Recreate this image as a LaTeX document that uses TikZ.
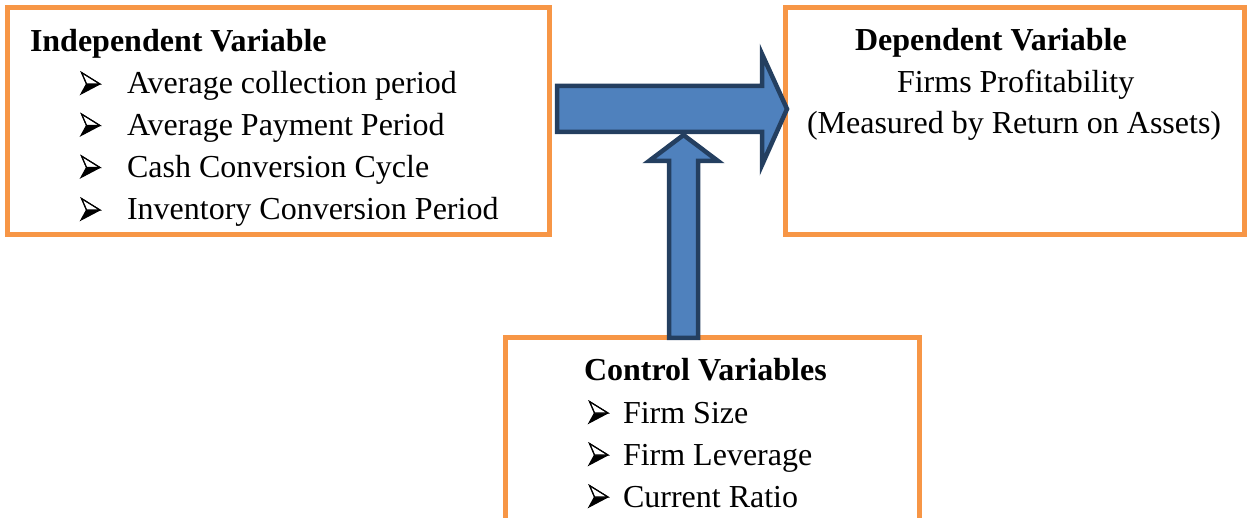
\documentclass[tikz,border=0pt]{standalone}
\usepackage{fontspec}
\setmainfont{Liberation Serif}
\newfontfamily\timesfam{Liberation Serif}
\usetikzlibrary{calc}
\definecolor{boxorange}{HTML}{F79646}
\definecolor{arrowfill}{HTML}{4F81BD}
\definecolor{arrowline}{HTML}{243F60}
\begin{document}
\begin{tikzpicture}[x=1pt,y=-1pt,
  varbox/.style={draw=boxorange, line width=5pt, fill=white, inner sep=0pt, outer sep=0pt, anchor=north west},
  txt/.style={anchor=base west, inner sep=0pt, outer sep=0pt, font=\timesfam\fontsize{32}{36}\selectfont},
  headtxt/.style={txt, font=\timesfam\fontsize{32}{36}\selectfont\bfseries},
  blockarrow/.style={fill=arrowfill, draw=arrowline, line width=4.5pt, line join=miter},
  arrowbullet/.pic={
    % lower half in black, upper half white with an outline
    \fill[black] (5.5,-10) -- (19,-10) -- (0,0) -- cycle;
    \draw[black, line width=1.1pt, fill=white, line join=miter] (0.5,-21.5) -- (19,-10) -- (5.5,-10) -- cycle;
    \draw[black, line width=1.1pt, line join=miter] (0.5,-21.5) -- (19,-10) -- (0,0) -- (5.5,-10) -- cycle;
  }
]
\useasboundingbox (0,0) rectangle (1247,518);

% variable boxes
\node[varbox, minimum width=542pt, minimum height=227pt] (indep) at (7,8) {};
\node[varbox, minimum width=459pt, minimum height=227pt] (dep) at (785,8) {};
\node[varbox, minimum width=414pt, minimum height=184pt] (ctrl) at (505,338) {};

% independent variable
\node[headtxt] (indepHead) at (30,52) {Independent Variable};
\pic at (81,94) {arrowbullet};
\pic at (81,135.5) {arrowbullet};
\pic at (81,177.5) {arrowbullet};
\pic at (81,220) {arrowbullet};
\node[txt] (acp) at (127,94) {Average collection period};
\node[txt] (app) at (127,135.5) {Average Payment Period};
\node[txt] (ccc) at (127,177.5) {Cash Conversion Cycle};
\node[txt] (icp) at (127,220) {Inventory Conversion Period};

% dependent variable
\node[headtxt] (depHead) at (855,51) {Dependent Variable};
\node[txt] (fp) at (897,93) {Firms Profitability};
\node[txt] (roa) at (807,134) {(Measured by Return on Assets)};

% control variables
\node[headtxt] (ctrlHead) at (584,380) {Control Variables};
\pic at (589,423) {arrowbullet};
\pic at (589,465) {arrowbullet};
\pic at (589,507) {arrowbullet};
\node[txt] (fs) at (623,423) {Firm Size};
\node[txt] (fl) at (623,465) {Firm Leverage};
\node[txt] (cr) at (623,507) {Current Ratio};

% block arrow: independent -> dependent
\coordinate (hTail) at ($(indep.north east)+(8,101)$);
\coordinate (hTip) at ($(dep.north west)+(2,101)$);
\draw[blockarrow] ($(hTail)+(0,-23)$) -- ($(hTip)+(-25,-23)$) -- ($(hTip)+(-25,-55)$)
  -- (hTip) -- ($(hTip)+(-25,56)$) -- ($(hTip)+(-25,23)$) -- ($(hTail)+(0,23)$) -- cycle;

% block arrow: control -> main arrow
\coordinate (vTail) at ($(ctrl.north west)+(178.5,0)$);
\coordinate (vTip) at ($(hTail)+(126.5,26)$);
\draw[blockarrow] ($(vTail)+(-14.5,0)$) -- ($(vTip)+(-14.5,26)$) -- ($(vTip)+(-34.5,26)$)
  -- (vTip) -- ($(vTip)+(34.5,26)$) -- ($(vTip)+(14.5,26)$) -- ($(vTail)+(14.5,0)$) -- cycle;
\end{tikzpicture}
\end{document}
